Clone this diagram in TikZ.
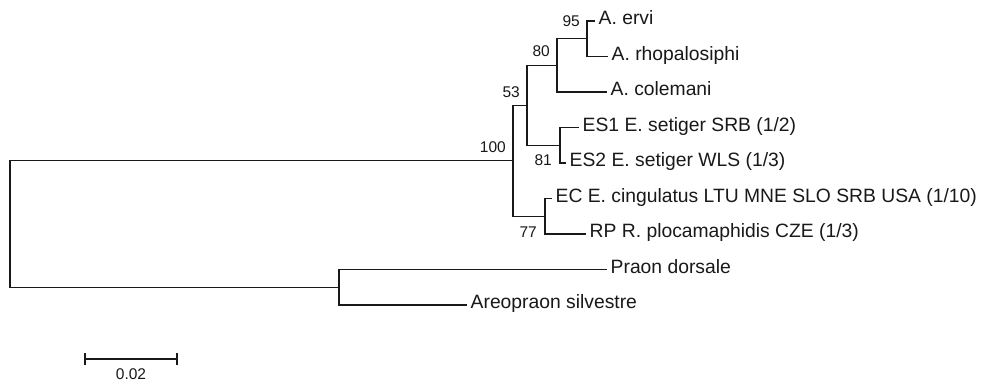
\documentclass[tikz,border=0pt]{standalone}
\usepackage{fontspec}
\setmainfont{Liberation Sans}
\definecolor{ink}{RGB}{25,25,25}
\begin{document}
\begin{tikzpicture}[x=1pt,y=-1pt,
  branch/.style={draw=ink,line width=1.3pt,line cap=rect},
  leaf/.style={anchor=west,inner xsep=4.5pt,inner ysep=0pt,text=ink,
    font=\fontsize{19.3}{19.3}\selectfont,text height=0.716em,text depth=0pt},
  boot/.style={anchor=east,inner sep=0pt,text=ink,
    font=\fontsize{15.5}{15.5}\selectfont,text height=0.716em,text depth=0pt},
  scalelbl/.style={inner sep=0pt,text=ink,
    font=\fontsize{15.5}{15.5}\selectfont,text height=0.716em,text depth=0pt}]
\useasboundingbox[fill=white] (0,0) rectangle (987,383);
% internal nodes
\coordinate (nRoot) at (10,224.0);
\coordinate (n100) at (513,160.8);
\coordinate (n53) at (527,105.3);
\coordinate (n80) at (557,65.4);
\coordinate (n95) at (587,38.75);
\coordinate (n81) at (560,145.25);
\coordinate (n77) at (545,216.25);
\coordinate (nOut) at (339,287.25);
% leaves
\node[leaf] (ervi) at (594,21) {A. ervi};
\node[leaf] (rhop) at (607,56.5) {A. rhopalosiphi};
\node[leaf] (cole) at (606,92) {A. colemani};
\node[leaf] (es1) at (578,127.5) {ES1 E. setiger SRB (1/2)};
\node[leaf] (es2) at (565,163) {ES2 E. setiger WLS (1/3)};
\node[leaf] (ec) at (551,198.5) {EC E. cingulatus LTU MNE SLO SRB USA (1/10)};
\node[leaf] (rp) at (585,234) {RP R. plocamaphidis CZE (1/3)};
\node[leaf] (praon) at (606,269.5) {Praon dorsale};
\node[leaf] (areo) at (466,305) {Areopraon silvestre};
% branches
\draw[branch] (nRoot) |- (n100);
\draw[branch] (nRoot) |- (nOut);
\draw[branch] (n100) |- (n53);
\draw[branch] (n100) |- (n77);
\draw[branch] (n53) |- (n80);
\draw[branch] (n53) |- (n81);
\draw[branch] (n80) |- (n95);
\draw[branch] (n80) |- (cole.west);
\draw[branch] (n95) |- (ervi.west);
\draw[branch] (n95) |- (rhop.west);
\draw[branch] (n81) |- (es1.west);
\draw[branch] (n81) |- (es2.west);
\draw[branch] (n77) |- (ec.west);
\draw[branch] (n77) |- (rp.west);
\draw[branch] (nOut) |- (praon.west);
\draw[branch] (nOut) |- (areo.west);
% bootstrap values
\node[boot] (b95) at (580,23.3) {95};
\node[boot] (b80) at (550,52.5) {80};
\node[boot] (b53) at (520,93.8) {53};
\node[boot] (b100) at (506,148.5) {100};
\node[boot] (b81) at (552,162) {81};
\node[boot] (b77) at (537,233.8) {77};
% scale bar
\coordinate (sbL) at (85,359);
\coordinate (sbR) at (177,359);
\draw[branch] (sbL) -- (sbR);
\draw[branch,line cap=butt] ([yshift=-6pt]sbL) -- ([yshift=6pt]sbL);
\draw[branch,line cap=butt] ([yshift=-6pt]sbR) -- ([yshift=6pt]sbR);
\node[scalelbl] (sblbl) at (131,375.5) {0.02};
\end{tikzpicture}
\end{document}
